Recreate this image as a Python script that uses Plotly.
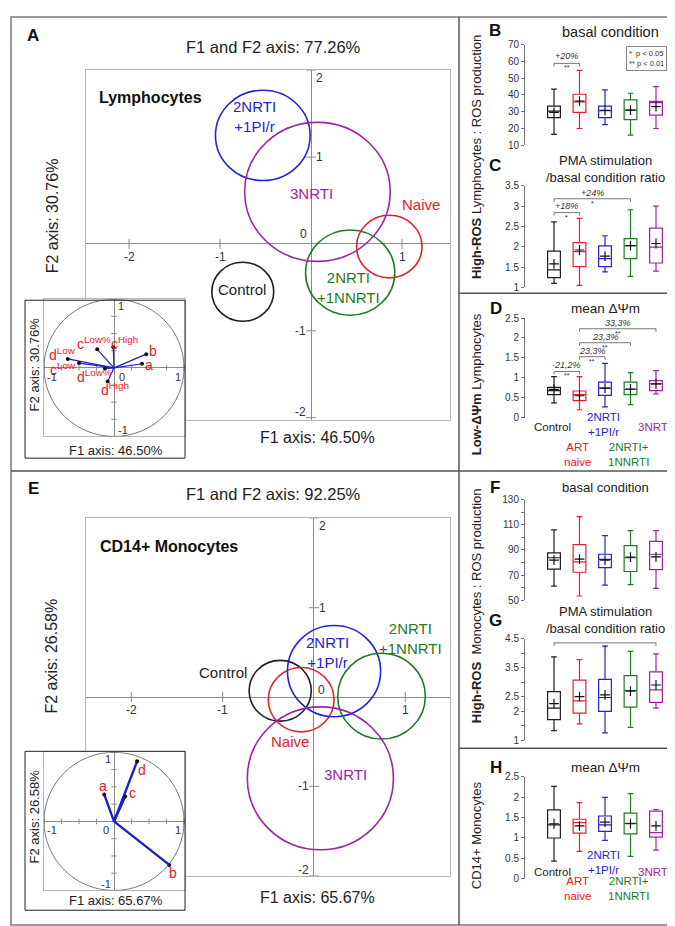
import plotly.graph_objects as go

W, H = 675, 926
FONT = "Liberation Sans, Arial, Helvetica, sans-serif"

# ------------------------------------------------------------------ data
group_colors = ["#1e1e1e", "#e4202a", "#2323d2", "#1f7a24", "#a023a6"]
box_pos = [0, 1, 2, 3, 4]
cat_labels = ["Control", "ART<br>naive", "2NRTI<br>+1PI/r", "2NRTI+<br>1NNRTI", "3NRTI"]

# PCA group circles. order: Control, Naive, 2NRTI+1PI/r, 2NRTI+1NNRTI, 3NRTI
pca_names = ["Control", "Naive", "2NRTI<br>+1PI/r", "2NRTI<br>+1NNRTI", "3NRTI"]
A_f1 = [-0.75, 0.86, -0.53, 0.43, 0.07]
A_f2 = [-0.55, -0.03, 1.25, -0.33, 0.60]
A_rad = [0.34, 0.36, 0.52, 0.49, 0.80]
A_lab_f1 = [-0.76, 1.21, -0.62, 0.41, 0.00]
A_lab_f2 = [-0.52, 0.45, 1.47, -0.50, 0.58]

E_f1 = [-0.37, -0.14, 0.22, 0.74, 0.07]
E_f2 = [0.07, -0.03, 0.29, 0.01, -0.91]
E_rad = [0.34, 0.36, 0.51, 0.48, 0.80]
E_lab_f1 = [-1.00, -0.26, 0.15, 1.06, 0.34]
E_lab_f2 = [0.27, -0.50, 0.50, 0.66, -0.87]

pca_xticks = [-2, -1, 1]
pca_yticks = [2, 1, -1, -2]

# correlation circles (variable loadings)
A_vars = ["a", "b", "c<sup>High</sup>", "c<sup>Low%</sup>", "c<sup>Low</sup>",
          "d<sup>High</sup>", "d<sup>Low%</sup>", "d<sup>Low</sup>"]
A_load1 = [0.40, 0.46, -0.01, -0.24, -0.50, -0.09, -0.13, -0.66]
A_load2 = [0.06, 0.20, 0.30, 0.27, 0.07, -0.20, -0.01, 0.13]
A_lab_dx = [7, 7, 11, -3, -16, 7, -10, -5]
A_lab_dy = [-1, 3, 4, 6, -6, -7, -7, 5]

E_vars = ["a", "b", "c", "d"]
E_load1 = [-0.14, 0.79, 0.16, 0.33]
E_load2 = [0.39, -0.63, 0.36, 0.87]
E_lab_dx = [-1, 4, 7, 5]
E_lab_dy = [8, -8, 4, -9]

# box-plot summaries (lower whisker, Q1, median, Q3, upper whisker, mean)
B_lo = [16.5, 20.0, 22.3, 16.0, 20.0]
B_q1 = [26.5, 29.6, 26.5, 25.3, 28.0]
B_med = [30.4, 35.8, 30.6, 31.0, 35.4]
B_q3 = [33.3, 40.4, 33.3, 37.0, 36.2]
B_hi = [43.5, 54.6, 43.0, 41.0, 45.0]
B_mean = [29.6, 36.3, 30.8, 31.0, 33.0]

C_lo = [1.10, 1.05, 1.38, 1.27, 1.40]
C_q1 = [1.24, 1.51, 1.51, 1.71, 1.60]
C_med = [1.43, 1.88, 1.71, 2.03, 1.99]
C_q3 = [1.89, 2.10, 2.02, 2.20, 2.46]
C_hi = [2.61, 2.70, 2.27, 2.91, 3.00]
C_mean = [1.58, 1.92, 1.77, 2.03, 2.08]

D_lo = [0.37, 0.20, 0.27, 0.33, 0.60]
D_q1 = [0.58, 0.43, 0.56, 0.58, 0.68]
D_med = [0.68, 0.58, 0.74, 0.71, 0.85]
D_q3 = [0.76, 0.67, 0.89, 0.89, 0.93]
D_hi = [1.03, 1.03, 1.36, 1.13, 1.18]
D_mean = [0.71, 0.55, 0.74, 0.72, 0.85]

F_lo = [61.2, 53.4, 62.0, 62.5, 59.4]
F_q1 = [74.7, 72.3, 76.0, 72.9, 74.4]
F_med = [83.8, 80.6, 82.5, 83.8, 86.6]
F_q3 = [87.7, 94.2, 86.6, 93.4, 96.8]
F_hi = [106.0, 116.5, 101.4, 105.3, 105.3]
F_mean = [82.0, 82.7, 82.0, 84.3, 84.5]

G_lo = [1.34, 1.57, 1.26, 1.45, 2.11]
G_q1 = [1.72, 1.94, 2.00, 2.15, 2.31]
G_med = [2.11, 2.36, 2.48, 2.72, 2.74]
G_q3 = [2.68, 3.08, 3.10, 3.23, 3.36]
G_hi = [3.88, 3.78, 4.25, 4.07, 3.98]
G_mean = [2.27, 2.51, 2.57, 2.70, 2.91]

Hh_lo = [0.43, 0.67, 0.94, 0.55, 0.70]
Hh_q1 = [1.00, 1.12, 1.16, 1.10, 1.02]
Hh_med = [1.32, 1.38, 1.32, 1.36, 1.13]
Hh_q3 = [1.69, 1.46, 1.54, 1.61, 1.66]
Hh_hi = [2.27, 1.87, 2.00, 2.09, 1.70]
Hh_mean = [1.35, 1.30, 1.39, 1.35, 1.30]

# significance brackets: (from group, to group, bracket level, label level, text, stars)
B_sig = [(0, 1, 58.8, 63.0, "+20%", "**")]
C_sig = [(0, 1, 2.84, 3.00, "+18%", "*"), (0, 3, 3.18, 3.32, "+24%", "*")]
D_sig = [(0, 1, 1.16, 1.32, "-21,2%", "**"), (1, 2, 1.53, 1.67, "23,3%", "**"),
         (1, 3, 1.88, 2.02, "23,3%", "**"), (1, 4, 2.23, 2.37, "33,3%", "**")]
G_sig = [(0, 4, 4.36, 4.53, "+26%", "*")]

# ------------------------------------------------------------------ helpers
fig = go.Figure()
annotations = []
shapes = []
AXC = "#8a8a8a"
FRC = "#b8b8b8"


def dx(x0, x1):
    return [x0 / W, x1 / W]


def dy(top, bottom):
    return [1 - bottom / H, 1 - top / H]


def sfx(n):
    return "" if n == 1 else str(n)


def ann(text, x, y, xref="paper", yref="paper", size=12, color="#222",
        xanchor="center", yanchor="middle", **kw):
    if xref == "paper":
        x = x / W
    if yref == "paper":
        y = 1 - y / H
    annotations.append(dict(text=text, x=x, y=y, xref=xref, yref=yref, showarrow=False,
                            font=dict(size=size, color=color, family=FONT),
                            xanchor=xanchor, yanchor=yanchor, **kw))


def pca_main(n, f1, f2, rad, lab1, lab2, top, bottom, xr, yr, zero_left):
    s = sfx(n)
    xa, ya = "x" + s, "y" + s
    fig.update_layout(**{
        "xaxis" + s: dict(domain=dx(78, 442), range=xr, anchor=ya, showgrid=False,
                          zeroline=True, zerolinecolor=AXC, zerolinewidth=1,
                          showline=True, mirror=True, linecolor=FRC, linewidth=1,
                          showticklabels=False, ticks="", fixedrange=True),
        "yaxis" + s: dict(domain=dy(top, bottom), range=yr, anchor=xa, showgrid=False,
                          zeroline=True, zerolinecolor=AXC, zerolinewidth=1,
                          showline=True, mirror=True, linecolor=FRC, linewidth=1,
                          showticklabels=False, ticks="", fixedrange=True),
    })
    fig.add_trace(go.Scatter(x=pca_xticks, y=[0] * len(pca_xticks), mode="markers",
                             marker=dict(symbol="line-ns", size=7, line=dict(width=1, color=AXC)),
                             xaxis=xa, yaxis=ya, hoverinfo="skip"))
    fig.add_trace(go.Scatter(x=[0] * len(pca_yticks), y=pca_yticks, mode="markers",
                             marker=dict(symbol="line-ew", size=7, line=dict(width=1, color=AXC)),
                             xaxis=xa, yaxis=ya, hoverinfo="skip"))
    for t in pca_xticks:
        ann(str(t), t, 0, xref=xa, yref=ya, size=12, color="#333", yanchor="top", yshift=-4)
    for t in pca_yticks:
        shift = -8 if t == max(pca_yticks) else (6 if t == min(pca_yticks) else 0)
        if t > 0:
            ann(str(t), 0, t, xref=xa, yref=ya, size=12, color="#333", xanchor="left",
                xshift=3, yshift=shift)
        else:
            ann(str(t), 0, t, xref=xa, yref=ya, size=12, color="#333", xanchor="right",
                xshift=-3, yshift=shift)
    if zero_left:
        ann("0", 0, 0, xref=xa, yref=ya, size=12, color="#333", xanchor="right",
            yanchor="bottom", xshift=-2, yshift=1)
    else:
        ann("0", 0, 0, xref=xa, yref=ya, size=12, color="#333", xanchor="left",
            yanchor="bottom", xshift=2, yshift=-2)
    for i in range(len(f1)):
        shapes.append(dict(type="circle", xref=xa, yref=ya,
                           x0=f1[i] - rad[i], x1=f1[i] + rad[i],
                           y0=f2[i] - rad[i], y1=f2[i] + rad[i],
                           line=dict(color=group_colors[i], width=1.6), layer="above"))
        ann(pca_names[i], lab1[i], lab2[i], xref=xa, yref=ya, size=15,
            color=group_colors[i])


def inset(n, names, l1, l2, ldx, ldy, top, bottom, xr, yr, vec_w, ylab_right, zero_right):
    s = sfx(n)
    xa, ya = "x" + s, "y" + s
    fig.update_layout(**{
        "xaxis" + s: dict(domain=dx(36, 177), range=xr, anchor=ya, showgrid=False,
                          zeroline=True, zerolinecolor=AXC, zerolinewidth=1,
                          showline=True, mirror=True, linecolor=FRC, linewidth=1,
                          showticklabels=False, ticks="", fixedrange=True),
        "yaxis" + s: dict(domain=dy(top, bottom), range=yr, anchor=xa, showgrid=False,
                          zeroline=True, zerolinecolor=AXC, zerolinewidth=1,
                          showline=True, mirror=True, linecolor=FRC, linewidth=1,
                          showticklabels=False, ticks="", fixedrange=True),
    })
    minor = [k / 4 for k in range(-4, 5) if k != 0]
    fig.add_trace(go.Scatter(x=minor, y=[0] * len(minor), mode="markers",
                             marker=dict(symbol="line-ns", size=4, line=dict(width=1, color=AXC)),
                             xaxis=xa, yaxis=ya, hoverinfo="skip"))
    fig.add_trace(go.Scatter(x=[0] * len(minor), y=minor, mode="markers",
                             marker=dict(symbol="line-ew", size=4, line=dict(width=1, color=AXC)),
                             xaxis=xa, yaxis=ya, hoverinfo="skip"))
    shapes.append(dict(type="circle", xref=xa, yref=ya, x0=-1, x1=1, y0=-1, y1=1,
                       line=dict(color="#555", width=0.8), layer="above"))
    vx, vy = [], []
    for a, b in zip(l1, l2):
        vx += [0, a, None]
        vy += [0, b, None]
    fig.add_trace(go.Scatter(x=vx, y=vy, mode="lines", line=dict(color="#1f1fc8", width=vec_w),
                             xaxis=xa, yaxis=ya, hoverinfo="skip"))
    fig.add_trace(go.Scatter(x=l1, y=l2, mode="markers", marker=dict(color="#111", size=4),
                             xaxis=xa, yaxis=ya, hoverinfo="skip", cliponaxis=False))
    for i in range(len(names)):
        ann(names[i], l1[i], l2[i], xref=xa, yref=ya, size=14, color="#e4202a",
            xshift=ldx[i], yshift=ldy[i])
    if ylab_right:
        ann("1", 0, 1, xref=xa, yref=ya, size=11, color="#333", xanchor="left", xshift=2, yshift=-7)
        ann("-1", 0, -1, xref=xa, yref=ya, size=11, color="#333", xanchor="left", xshift=2, yshift=6)
    else:
        ann("1", 0, 1, xref=xa, yref=ya, size=11, color="#333", xanchor="right", xshift=-1, yshift=-7)
        ann("-1", 0, -1, xref=xa, yref=ya, size=11, color="#333", xanchor="right", xshift=-1, yshift=6)
    ann("-1", -1, 0, xref=xa, yref=ya, size=11, color="#333", xanchor="left", yanchor="top", xshift=1, yshift=-1)
    ann("1", 1, 0, xref=xa, yref=ya, size=11, color="#333", xanchor="right", yanchor="top", xshift=-1, yshift=-1)
    if zero_right:
        ann("0", 0, 0, xref=xa, yref=ya, size=11, color="#333", xanchor="left", yanchor="top", xshift=3, yshift=-1)
    else:
        ann("0", 0, 0, xref=xa, yref=ya, size=11, color="#333", xanchor="right", yanchor="top", xshift=-3, yshift=-1)


def box_panel(n, top, bottom, yr, tickvals, ticktext, lo, q1, med, q3, hi, mean, sig):
    s = sfx(n)
    xa, ya = "x" + s, "y" + s
    fig.update_layout(**{
        "xaxis" + s: dict(domain=dx(517, 663), range=[-1.137, 4.588], autorange=False,
                          anchor=ya, type="linear", showline=False, showticklabels=False,
                          ticks="", zeroline=False, showgrid=False, fixedrange=True),
        "yaxis" + s: dict(domain=dy(top, bottom), range=yr, anchor=xa, showgrid=False,
                          zeroline=False, showline=True, linecolor="#777", linewidth=1,
                          ticks="outside", ticklen=3, tickcolor="#777", tickvals=tickvals,
                          ticktext=ticktext, tickfont=dict(size=10, color="#333", family=FONT),
                          fixedrange=True),
    })
    for i in range(len(box_pos)):
        fig.add_trace(go.Box(x0=box_pos[i], q1=[q1[i]], median=[med[i]], q3=[q3[i]],
                             lowerfence=[lo[i]], upperfence=[hi[i]], width=0.5,
                             whiskerwidth=0.45, line=dict(color=group_colors[i], width=1.2),
                             fillcolor="rgba(255,255,255,0)", boxpoints=False,
                             xaxis=xa, yaxis=ya, hoverinfo="skip"))
    fig.add_trace(go.Scatter(x=box_pos, y=mean, mode="markers",
                             marker=dict(symbol="cross-thin", size=7, color="#111",
                                         line=dict(width=1.2, color="#111")),
                             xaxis=xa, yaxis=ya, hoverinfo="skip"))
    span = yr[1] - yr[0]
    tick = 3.0 / (bottom - top) * span
    for (g0, g1, lev, llev, txt, stars) in sig:
        fig.add_trace(go.Scatter(x=[g0, g0, g1, g1], y=[lev - tick, lev, lev, lev - tick],
                                 mode="lines", line=dict(color="#555", width=0.8),
                                 xaxis=xa, yaxis=ya, hoverinfo="skip", cliponaxis=False))
        ann("<i>" + txt + "</i>", (g0 + g1) / 2, llev, xref=xa, yref=ya, size=9, color="#333")
        ann(stars, (g0 + g1) / 2, lev, xref=xa, yref=ya, size=7, color="#333",
            yanchor="top", yshift=1)


# ------------------------------------------------------------------ build
pca_main(1, A_f1, A_f2, A_rad, A_lab_f1, A_lab_f2, 57, 411, [-2.473, 1.527], [-2.023, 2.0], True)
inset(2, A_vars, A_load1, A_load2, A_lab_dx, A_lab_dy, 289, 428, [-1.0, 1.014], [-1.0, 1.0], 1.2, True, True)
pca_main(3, E_f1, E_f2, E_rad, E_lab_f1, E_lab_f2, 511, 873, [-2.497, 1.49], [-2.0, 2.0], False)
inset(4, E_vars, E_load1, E_load2, E_lab_dx, E_lab_dy, 748, 888, [-1.0, 1.014], [-1.0, 1.0], 2.4, False, False)

box_panel(5, 31, 133, [10, 70], [10, 20, 30, 40, 50, 60, 70],
          ["10", "20", "30", "40", "50", "60", "70"],
          B_lo, B_q1, B_med, B_q3, B_hi, B_mean, B_sig)
box_panel(6, 174, 277, [1, 3.5], [1, 1.5, 2, 2.5, 3, 3.5],
          ["1", "1.5", "2", "2.5", "3", "3.5"],
          C_lo, C_q1, C_med, C_q3, C_hi, C_mean, C_sig)
box_panel(7, 308, 409, [0, 2.5], [0, 0.5, 1, 1.5, 2, 2.5],
          ["0", "0.5", "1", "1.5", "2", "2.5"],
          D_lo, D_q1, D_med, D_q3, D_hi, D_mean, D_sig)
box_panel(8, 492, 594, [50, 130], [50, 60, 70, 80, 90, 100, 110, 120, 130],
          ["50", "", "70", "", "90", "", "110", "", "130"],
          F_lo, F_q1, F_med, F_q3, F_hi, F_mean, [])
box_panel(9, 633, 736, [1, 4.5], [1, 1.5, 2, 2.5, 3, 3.5, 4, 4.5],
          ["1", "", "2", "2.5", "", "3.5", "", "4.5"],
          G_lo, G_q1, G_med, G_q3, G_hi, G_mean, G_sig)
box_panel(10, 773, 876, [0, 2.5], [0, 0.5, 1, 1.5, 2, 2.5],
          ["0", "0.5", "1", "1.5", "2", "2.5"],
          Hh_lo, Hh_q1, Hh_med, Hh_q3, Hh_hi, Hh_mean, [])

D_cat_y = [418, 446, 416, 446, 418]
H_cat_y = [877, 902, 875, 902, 877]
for i in range(len(cat_labels)):
    annotations.append(dict(text=cat_labels[i], x=box_pos[i], y=1 - D_cat_y[i] / H,
                            xref="x7", yref="paper", showarrow=False, xshift=-2,
                            font=dict(size=11.5, color=group_colors[i], family=FONT)))
    annotations.append(dict(text=cat_labels[i], x=box_pos[i], y=1 - H_cat_y[i] / H,
                            xref="x10", yref="paper", showarrow=False, xshift=-2,
                            font=dict(size=11.5, color=group_colors[i], family=FONT)))

for txt, x, y in [("A", 25, 22), ("B", 487, 17), ("C", 487, 153), ("D", 488, 298),
                  ("E", 25, 481), ("F", 487, 480), ("G", 487, 614), ("H", 488, 763)]:
    ann("<b>" + txt + "</b>", x, y, size=17, color="#111")

ann("F1 and F2 axis: 77.26%", 265, 33, size=16.5)
ann("F1 and F2 axis: 92.25%", 265, 486, size=16.5)
ann("<b>Lymphocytes</b>", 89, 85, size=16, xanchor="left", color="#111")
ann("<b>CD14+ Monocytes</b>", 90, 539, size=16, xanchor="left", color="#111")
ann("F1 axis: 46.50%", 309, 429, size=16)
ann("F1 axis: 65.67%", 309, 895, size=16)
ann("F2 axis: 30.76%", 44, 204, size=16, textangle=-90)
ann("F2 axis: 26.58%", 44, 650, size=16, textangle=-90)
ann("F1 axis: 46.50%", 108, 442, size=13)
ann("F1 axis: 65.67%", 108, 898, size=13)
ann("F2 axis: 30.76%", 26, 355, size=13, textangle=-90)
ann("F2 axis: 26.58%", 26, 813, size=13, textangle=-90)

ann("basal condition", 602, 18, size=14.5)
ann("PMA stimulation<br>/basal condition ratio", 597, 157, size=13)
ann("mean ΔΨm", 597, 298, size=13.5)
ann("basal condition", 597, 480, size=13)
ann("PMA stimulation<br>/basal condition ratio", 597, 614, size=13)
ann("mean ΔΨm", 597, 763, size=13.5)
ann("<b>High-ROS</b> Lymphocytes : ROS production", 468, 145, size=13, textangle=-90)
ann("<b>Low-ΔΨm</b> Lymphocytes", 468, 375, size=13, textangle=-90)
ann("<b>High-ROS</b>  Monocytes : ROS production", 468, 600, size=13, textangle=-90)
ann("CD14+ Monocytes", 468, 832, size=13, textangle=-90)
ann("*  p &lt; 0.05<br>** p &lt; 0.01", 638, 45, size=7.5, align="left",
    bordercolor="#888", borderwidth=1, borderpad=2, color="#333")


def pline(x0, y0, x1, y1, color="#555", width=1.5):
    shapes.append(dict(type="line", xref="paper", yref="paper", x0=x0 / W, x1=x1 / W,
                       y0=1 - y0 / H, y1=1 - y1 / H, line=dict(color=color, width=width),
                       layer="above"))


def prect(x0, y0, x1, y1, color, width):
    shapes.append(dict(type="rect", xref="paper", yref="paper", x0=x0 / W, x1=x1 / W,
                       y0=1 - y1 / H, y1=1 - y0 / H, line=dict(color=color, width=width),
                       layer="above"))


prect(3, 3, 672, 923, "#9a9a9a", 2)
pline(451, 3, 451, 923)
pline(3, 463, 672, 463)
pline(451, 283, 672, 283)
pline(451, 744, 672, 744)
prect(17, 290, 177, 450, "#222", 1)
prect(17, 747, 177, 908, "#222", 1)

fig.update_layout(width=W, height=H, margin=dict(l=0, r=0, t=0, b=0),
                  paper_bgcolor="white", plot_bgcolor="white", showlegend=False,
                  boxmode="overlay", font=dict(family=FONT, color="#222"),
                  annotations=annotations, shapes=shapes)

fig.write_html("out.html")
